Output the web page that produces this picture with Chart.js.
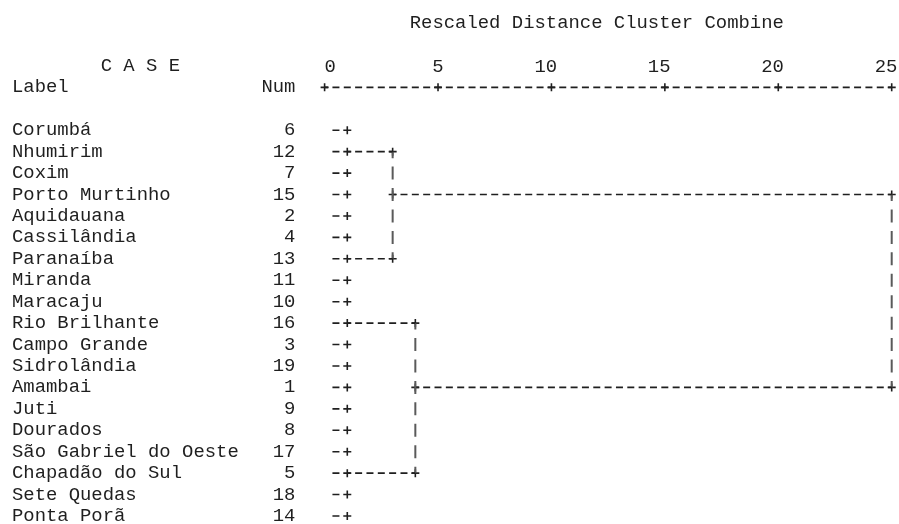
<!DOCTYPE html>
<html>
<head>
<meta charset="utf-8">
<script src="https://cdn.jsdelivr.net/npm/chart.js@4.4.1/dist/chart.umd.min.js"></script>
<style>
  html, body { margin: 0; background: #fff; }
</style>
</head>
<body>
<canvas id="dendro" width="899" height="524"></canvas>
<script>
// cases in dendrogram order, with their case numbers
const cases = ['Corumbá', 'Nhumirim', 'Coxim', 'Porto Murtinho', 'Aquidauana', 'Cassilândia',
  'Paranaíba', 'Miranda', 'Maracaju', 'Rio Brilhante', 'Campo Grande', 'Sidrolândia', 'Amambai',
  'Juti', 'Dourados', 'São Gabriel do Oeste', 'Chapadão do Sul', 'Sete Quedas', 'Ponta Porã'];
const caseNums = [6, 12, 7, 15, 2, 4, 13, 11, 10, 16, 3, 19, 1, 9, 8, 17, 5, 18, 14];

// rescaled distance axis
const distanceTicks = [0, 5, 10, 15, 20, 25];

// all leaves are joined at this rescaled distance
const leafJoin = 1;

// merges: rows of the two branches, where each branch starts, and the join distance
const mergeUpperRow = [1, 9, 3];
const mergeLowerRow = [6, 16, 12];
const mergeUpperFrom = [1, 1, 3];
const mergeLowerFrom = [1, 1, 4];
const mergeHeight = [3, 4, 25];

const titleText = 'Rescaled Distance Cluster Combine';
const caseHeader = '        C A S E';
const labelHeader = 'Label'.padEnd(22) + 'Num';

const FAMILY = "'Liberation Mono', 'Courier New', monospace";
const SIZE = 18.9;
const INK = '#1f1f1f';
const BAR = '#5a5a5a';
const font = { family: FAMILY, size: SIZE };

const rowLabels = cases.map((c, i) => c.padEnd(22) + String(caseNums[i]).padStart(3));
const rowTicks = [-2].concat(cases.map((c, i) => i));

function segment(points, dash, offset, color, width) {
  return {
    data: points,
    borderColor: color,
    borderWidth: width,
    borderDash: dash,
    borderDashOffset: offset,
    pointRadius: 0,
    showLine: true,
    clip: false
  };
}

const datasets = [];
const hDash = [7, 4.34];
const vDash = [13, 8.44];

// leaf stubs "-+"
cases.forEach((c, i) => {
  datasets.push(segment([{ x: 0, y: i }, { x: leafJoin, y: i }], [0, 7.84, 7, 40], 0, INK, 1.6));
});

const joints = cases.map((c, i) => ({ x: leafJoin, y: i }));

mergeHeight.forEach((h, k) => {
  datasets.push(segment([{ x: mergeUpperFrom[k], y: mergeUpperRow[k] }, { x: h, y: mergeUpperRow[k] }], hDash, 3.5, INK, 1.6));
  datasets.push(segment([{ x: mergeLowerFrom[k], y: mergeLowerRow[k] }, { x: h, y: mergeLowerRow[k] }], hDash, 3.5, INK, 1.6));
  datasets.push(segment([{ x: h, y: mergeUpperRow[k] }, { x: h, y: mergeLowerRow[k] }], vDash, 6.5, BAR, 2));
  joints.push({ x: h, y: mergeUpperRow[k] }, { x: h, y: mergeLowerRow[k] });
  if (mergeUpperFrom[k] > leafJoin) joints.push({ x: mergeUpperFrom[k], y: mergeUpperRow[k] });
  if (mergeLowerFrom[k] > leafJoin) joints.push({ x: mergeLowerFrom[k], y: mergeLowerRow[k] });
});

datasets.push({
  data: joints,
  showLine: false,
  pointStyle: 'cross',
  pointRadius: 4,
  pointBorderWidth: 1.6,
  pointBorderColor: INK,
  clip: false
});

// "+---------+" axis line and the CASE header
const asciiAxis = {
  id: 'asciiAxis',
  afterDraw(chart) {
    const { ctx, chartArea, scales: { x, y } } = chart;
    const py = chartArea.top;
    ctx.save();
    ctx.strokeStyle = INK;
    ctx.lineWidth = 1.6;
    ctx.setLineDash(hDash);
    ctx.lineDashOffset = 3.5;
    ctx.beginPath();
    ctx.moveTo(x.left, py);
    ctx.lineTo(x.right, py);
    ctx.stroke();
    ctx.setLineDash([]);
    x.ticks.forEach(t => {
      const px = x.getPixelForValue(t.value);
      ctx.beginPath();
      ctx.moveTo(px - 4, py); ctx.lineTo(px + 4, py);
      ctx.moveTo(px, py - 4); ctx.lineTo(px, py + 4);
      ctx.stroke();
    });
    ctx.fillStyle = INK;
    ctx.font = SIZE + 'px ' + FAMILY;
    ctx.textAlign = 'left';
    ctx.textBaseline = 'middle';
    ctx.fillText(caseHeader, y.left - 2, y.getPixelForValue(-3));
    ctx.restore();
  }
};

new Chart(document.getElementById('dendro'), {
  type: 'line',
  data: { datasets },
  plugins: [asciiAxis],
  options: {
    responsive: false,
    animation: false,
    events: [],
    layout: { padding: { top: 8, left: 12, right: 7.3, bottom: 8 } },
    plugins: { legend: { display: false }, tooltip: { enabled: false } },
    elements: { line: { tension: 0 } },
    scales: {
      x: {
        type: 'linear',
        position: 'top',
        min: 0,
        max: 25,
        afterBuildTicks: s => { s.ticks = distanceTicks.map(v => ({ value: v })); },
        afterFit: s => { s.paddingLeft = 0; s.paddingRight = 0; },
        ticks: {
          font, color: INK, padding: 9.3, maxRotation: 0, autoSkip: false,
          callback: v => v === 0 ? ' 0' : (v >= 10 ? v + ' ' : String(v))
        },
        grid: { display: false, drawOnChartArea: false, drawTicks: false },
        border: { display: false },
        title: { display: true, text: titleText + '  ', font, color: INK, padding: { top: 3.4, bottom: 12 } }
      },
      y: {
        type: 'linear',
        reverse: true,
        min: -2,
        max: cases.length - 1,
        afterBuildTicks: s => { s.ticks = rowTicks.map(v => ({ value: v })); },
        afterFit: s => { s.width = 312.6; s.paddingTop = 0; s.paddingBottom = 0; },
        ticks: {
          font: { family: FAMILY, size: SIZE, lineHeight: 1 },
          color: INK, crossAlign: 'far', padding: 0, autoSkip: false,
          callback: v => v === -2 ? labelHeader : (v >= 0 ? rowLabels[v] : '')
        },
        grid: { display: false },
        border: { display: false }
      }
    }
  }
});
</script>
</body>
</html>
